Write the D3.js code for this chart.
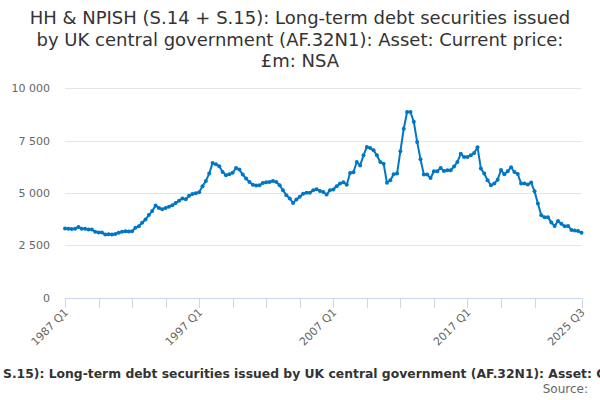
<!DOCTYPE html>
<html><head><meta charset="utf-8">
<script src="https://cdn.jsdelivr.net/npm/d3@7"></script>
<style>body{margin:0;background:#fff}svg{display:block}</style>
</head><body>
<svg id="c" width="600" height="400"></svg>
<script>
const titleLines = ["HH & NPISH (S.14 + S.15): Long-term debt securities issued","by UK central government (AF.32N1): Asset: Current price:","£m: NSA"];
const caption = "HH & NPISH (S.14 + S.15): Long-term debt securities issued by UK central government (AF.32N1): Asset: Current price: £m: NSA";
const startYear = 1987;
const values = [
3310,3300,3280,3300,3380,3300,3290,3260,3260,3150,
3120,3120,3020,3030,3020,3050,3100,3150,3180,3170,
3180,3340,3420,3580,3740,3950,4140,4400,4290,4230,
4290,4350,4420,4530,4630,4740,4710,4870,4950,4990,
5040,5320,5580,5930,6430,6370,6280,6010,5850,5900,
5970,6190,6120,5880,5690,5530,5400,5360,5370,5480,
5510,5530,5580,5530,5370,5130,4900,4740,4530,4690,
4820,4970,5010,5020,5130,5180,5100,5050,4930,5130,
5170,5320,5450,5510,5400,5960,5990,6480,6320,6800,
7200,7150,7040,6800,6480,6400,5490,5610,5900,5930,
7000,8070,8870,8870,8400,7440,6610,5880,5880,5720,
6040,6040,6200,6050,6090,6090,6270,6480,6880,6720,
6720,6800,6910,7190,6170,5930,5610,5370,5450,5640,
6100,5895,6040,6230,6006,5910,5450,5460,5410,5500,
5080,4500,3940,3850,3850,3600,3430,3670,3530,3410,
3430,3240,3210,3190,3100
];
const labels = values.map((v,i)=> (startYear + Math.floor(i/4)) + " Q" + (i%4+1));
const yTicks = [0,2500,5000,7500,10000];
const xTickIdx = [0,10,20,30,40,50,60,70,80,90,100,110,120,130,140,154];
const xLabelIdx = [0,40,80,120,154];

const svg = d3.select("#c");
const font = "'DejaVu Sans', sans-serif";
const x = d3.scaleLinear().domain([0, values.length-1]).range([65, 581.5]);
const y = d3.scaleLinear().domain([0,10000]).range([297.8, 88.3]);

// title
svg.append("text").attr("x",300).attr("y",24).attr("text-anchor","middle")
  .style("font-family",font).style("font-size","18px").attr("fill","#333")
  .selectAll("tspan").data(titleLines).join("tspan")
  .attr("x",300).attr("dy",(d,i)=>i?21.5:0).text(d=>d);

// grid
svg.append("g").selectAll("line").data(yTicks.filter(d=>d>0)).join("line")
  .attr("x1",65).attr("x2",581.5).attr("y1",d=>Math.round(y(d))+0.5).attr("y2",d=>Math.round(y(d))+0.5)
  .attr("stroke","#e6e6e6").attr("stroke-width",1);

// y labels
svg.append("g").selectAll("text").data(yTicks).join("text")
  .attr("x",50).attr("y",d=>y(d)+4).attr("text-anchor","end")
  .style("font-family",font).style("font-size","11px").attr("fill","#666")
  .text(d=>d3.format(",")(d).replace(/,/g," "));

// x axis
const ax = svg.append("g");
ax.append("line").attr("x1",65).attr("x2",581.5).attr("y1",298.5).attr("y2",298.5).attr("stroke","#ccd6eb");
ax.selectAll("line.t").data(xTickIdx).join("line").attr("class","t")
  .attr("x1",d=>Math.round(x(d))+0.5).attr("x2",d=>Math.round(x(d))+0.5).attr("y1",298).attr("y2",308)
  .attr("stroke","#ccd6eb");
ax.selectAll("text").data(xLabelIdx).join("text")
  .attr("transform",d=>`translate(${x(d)+4},${313}) rotate(-45)`)
  .attr("text-anchor","end")
  .style("font-family",font).style("font-size","11px").attr("fill","#666")
  .text(d=>labels[d]);

// line
const line = d3.line().x((d,i)=>x(i)).y(d=>y(d));
svg.append("path").datum(values).attr("d",line).attr("fill","none")
  .attr("stroke","#0077c4").attr("stroke-width",2).attr("stroke-linejoin","round");
svg.append("g").selectAll("circle").data(values).join("circle")
  .attr("cx",(d,i)=>x(i)).attr("cy",d=>y(d)).attr("r",2).attr("fill","#0077c4");

// caption: overflows the frame like the reference ("S.15)" starts at x=3, "C" of "Current" at x≈597)
const cap = svg.append("text").attr("y",378)
  .style("font-family",font).style("font-weight","bold").attr("fill","#333");
const probe = svg.append("text").style("font-family",font).style("font-size","12px").style("font-weight","bold");
const wOf = s => { probe.text(s); return probe.node().getComputedTextLength(); };
const wSeg = wOf("S.15): Long-term debt securities issued by UK central government (AF.32N1): Asset: C") - wOf("C");
const fs = 12 * 594 / wSeg;
probe.style("font-size", fs + "px");
const wPre = wOf("HH & NPISH (S.14 + S") - wOf("S");
probe.remove();
cap.style("font-size", fs + "px").attr("x", 3 - wPre).text(caption);

svg.append("text").attr("x",588).attr("y",393).attr("text-anchor","end")
  .style("font-family",font).style("font-size","12px").attr("fill","#666")
  .text("Source:");
</script>
</body></html>
